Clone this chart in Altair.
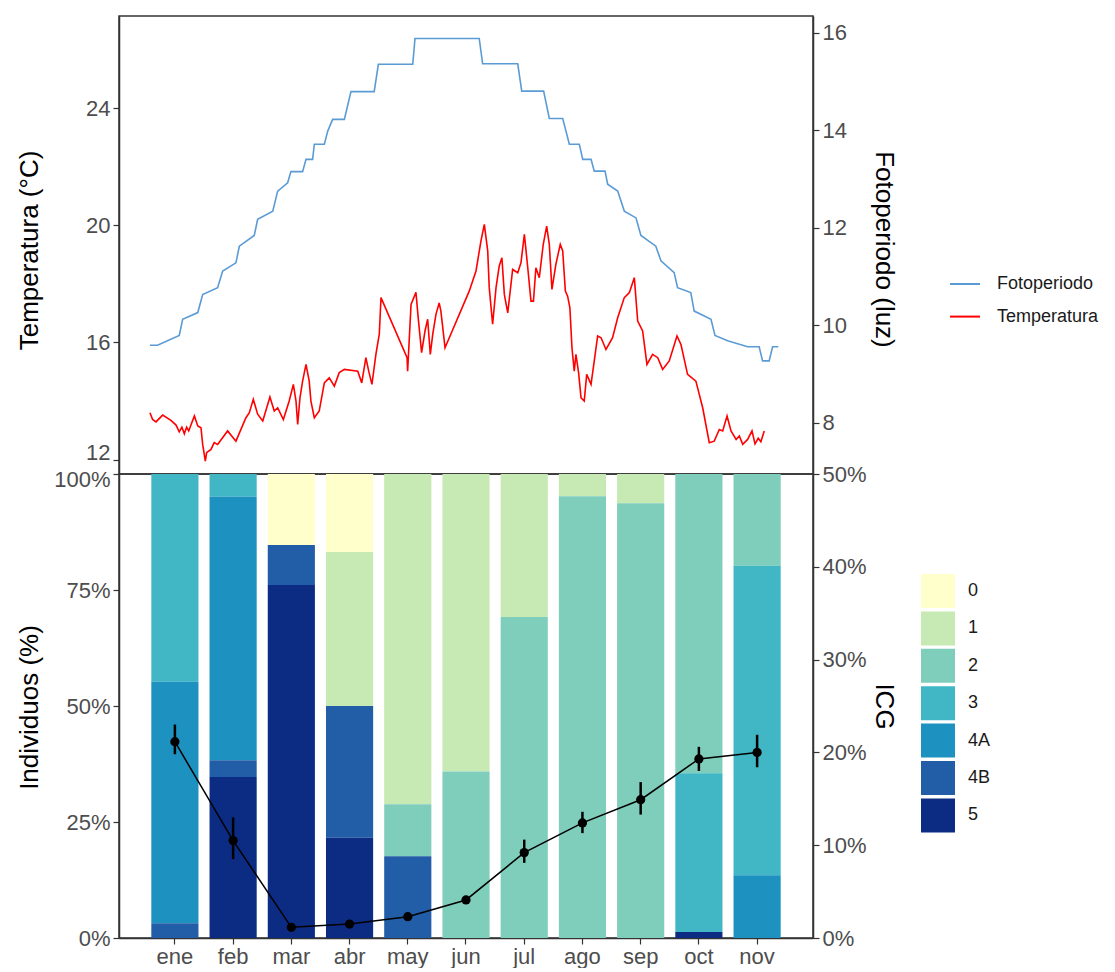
import altair as alt
import pandas as pd

# ---------------- data ----------------
meses = ["ene", "feb", "mar", "abr", "may", "jun", "jul", "ago", "sep", "oct", "nov"]
estadios = ["0", "1", "2", "3", "4A", "4B", "5"]
colores = ["#ffffcc", "#c7e9b4", "#7fcdbb", "#41b6c4", "#1d91c0", "#225ea8", "#0c2c84"]

# % of individuals per stage and month
p0 = [0, 0, 15.3, 16.8, 0, 0, 0, 0, 0, 0, 0]
p1 = [0, 0, 0, 33.2, 71.2, 64.1, 30.8, 4.8, 6.3, 0, 0]
p2 = [0, 0, 0, 0, 11.2, 35.9, 69.2, 95.2, 93.7, 64.5, 19.8]
p3 = [44.8, 4.9, 0, 0, 0, 0, 0, 0, 0, 34.2, 66.7]
p4A = [52.0, 56.8, 0, 0, 0, 0, 0, 0, 0, 0, 13.5]
p4B = [3.2, 3.6, 8.6, 28.4, 17.6, 0, 0, 0, 0, 0, 0]
p5 = [0, 34.7, 76.1, 21.6, 0, 0, 0, 0, 0, 1.3, 0]

# ICG (%) with error bars
icg = [21.15, 10.5, 1.15, 1.5, 2.3, 4.1, 9.2, 12.4, 14.9, 19.3, 20.0]
icg_lo = [19.8, 8.5, 1.0, 1.3, 2.0, 3.7, 8.1, 11.3, 13.3, 18.0, 18.4]
icg_hi = [23.0, 13.0, 1.3, 1.7, 2.6, 4.5, 10.6, 13.6, 16.8, 20.6, 21.9]

# Photoperiod (hours of light), day of year vertices
dia_foto = [0, 4, 15.5, 17.3, 25.3, 27.9, 35.8, 38.5, 45.5, 47.3, 55.2, 57.0, 65.0, 67.6,
            72.9, 74.6, 80.8, 82.6, 86.1, 87.0, 92.3, 94.1, 96.7, 102.9, 106.4, 118.7,
            120.9, 139.1, 140.3, 174.3, 176.1, 194.7, 196.8, 208.4, 211.4, 218.5, 222.0,
            227.3, 229.1, 233.5, 235.2, 240.9, 242.3, 247.6, 251.1, 257.3, 259.9, 267.8,
            270.5, 277.5, 279.3, 286.3, 288.1, 297.0, 299.1, 305.8, 316.4, 322.5, 324.3,
            327.8, 329.6, 332.6]
horas_foto = [9.59, 9.59, 9.79, 10.12, 10.26, 10.63, 10.77, 11.11, 11.28, 11.62, 11.84, 12.17,
              12.34, 12.75, 12.92, 13.15, 13.15, 13.40, 13.40, 13.71, 13.71, 13.98, 14.22,
              14.22, 14.79, 14.79, 15.35, 15.35, 15.88, 15.88, 15.36, 15.36, 14.80, 14.80,
              14.24, 14.24, 13.71, 13.71, 13.40, 13.40, 13.16, 13.16, 12.89, 12.75, 12.34,
              12.20, 11.84, 11.62, 11.32, 11.08, 10.77, 10.67, 10.29, 10.12, 9.79, 9.68,
              9.56, 9.56, 9.27, 9.27, 9.56, 9.56]

# Temperature (°C), day of year vertices
dia_temp = [0.0, 1.4, 3.2, 6.7, 11.1, 13.8, 15.5, 16.9, 18.2, 19.4, 20.5, 23.5, 25.3, 27.0,
            27.9, 29.3, 30.0, 32.3, 34.0, 35.8, 41.1, 45.5, 50.8, 52.6, 54.7, 57.0, 59.7,
            63.5, 65.8, 67.6, 70.6, 73.7, 75.9, 77.3, 78.2, 79.4, 80.8, 82.6, 84.3, 85.2,
            87.0, 89.6, 92.3, 94.9, 97.6, 100.2, 102.9, 110.0, 112.1, 114.3, 115.8, 117.5,
            119.6, 121.4, 122.3, 136.1, 136.4, 138.2, 140.8, 142.0, 143.8, 145.6, 147.0,
            148.4, 149.7, 151.4, 153.1, 154.0, 156.2, 169.0, 172.6, 175.2, 177.0, 178.8,
            179.6, 181.4, 183.2, 184.9, 186.3, 187.6, 189.4, 192.0, 194.7, 196.4, 198.2,
            200.0, 201.7, 203.0, 204.3, 206.1, 208.2, 210.0, 211.4, 212.8, 214.9, 217.2,
            218.5, 219.9, 221.1, 222.3, 223.4, 224.6, 225.5, 226.9, 228.2, 229.9, 231.2,
            233.5, 235.2, 237.0, 238.8, 241.4, 244.9, 247.6, 251.1, 253.8, 256.4, 258.2,
            260.8, 263.1, 266.1, 268.8, 271.4, 274.9, 279.0, 281.1, 284.6, 289.0, 292.6,
            296.1, 298.7, 301.4, 303.2, 305.5, 307.6, 310.3, 312.0, 313.8, 316.4, 318.7,
            320.3, 322.0, 323.4, 325.2]
temp = [13.60, 13.37, 13.29, 13.52, 13.34, 13.18, 12.95, 13.11, 12.88, 13.11, 12.98, 13.49,
        13.15, 13.09, 12.52, 11.95, 12.24, 12.35, 12.58, 12.52, 12.98, 12.63, 13.43, 13.60,
        14.06, 13.55, 13.32, 14.14, 13.66, 13.77, 13.37, 14.00, 14.57, 14.00, 13.20, 14.11,
        14.68, 15.25, 14.68, 14.00, 13.43, 13.66, 14.62, 14.79, 14.51, 14.97, 15.08, 15.02,
        14.62, 15.48, 15.02, 14.57, 15.59, 16.28, 17.53, 15.48, 15.02, 17.30, 17.71, 16.84,
        15.65, 16.39, 16.79, 15.59, 16.28, 16.96, 17.35, 17.07, 15.82, 17.75, 18.44, 19.46,
        20.03, 19.12, 17.87, 16.62, 17.87, 18.61, 18.89, 17.64, 17.01, 18.49, 18.38, 18.72,
        19.69, 18.55, 17.41, 17.41, 18.55, 18.21, 19.35, 19.97, 19.35, 17.81, 18.67, 19.35,
        19.12, 17.75, 17.58, 17.18, 15.82, 15.02, 15.59, 14.97, 14.11, 14.00, 14.91, 14.57,
        15.37, 16.22, 16.16, 15.76, 16.16, 16.84, 17.53, 17.70, 18.21, 16.73, 16.39, 15.25,
        15.59, 15.48, 15.08, 15.37, 16.22, 15.93, 14.91, 14.68, 13.77, 12.58, 12.63, 13.03,
        12.98, 13.49, 12.98, 12.69, 12.81, 12.52, 12.69, 12.98, 12.54, 12.73, 12.61, 12.98]

# ---------------- tables ----------------
df_foto = pd.DataFrame({"dia": dia_foto, "valor": horas_foto, "serie": "Fotoperiodo"})
df_temp = pd.DataFrame({"dia": dia_temp, "valor": temp, "serie": "Temperatura"})

series = {"0": p0, "1": p1, "2": p2, "3": p3, "4A": p4A, "4B": p4B, "5": p5}
rows = []
for est in estadios:
    for m, v in zip(meses, series[est]):
        if v > 0:
            rows.append({"mes": m, "estadio": est, "pct": v / 100.0,
                         "ord": len(estadios) - estadios.index(est)})
df_bars = pd.DataFrame(rows)

df_icg = pd.DataFrame({"mes": meses, "icg": [v / 100 for v in icg],
                       "lo": [v / 100 for v in icg_lo], "hi": [v / 100 for v in icg_hi]})

FONT = "Liberation Sans"

# ---------------- top panel ----------------
x_top = alt.X("dia:Q", scale=alt.Scale(domain=[-16.4, 351.0], nice=False, zero=False), axis=None)
color_top = alt.Color(
    "serie:N",
    scale=alt.Scale(domain=["Fotoperiodo", "Temperatura"], range=["#5b9bd5", "#ff0000"]),
    legend=alt.Legend(title=None, orient="none", legendX=830, legendY=252,
                      symbolType="stroke", symbolSize=900, symbolStrokeWidth=2,
                      labelFontSize=18, labelFont=FONT, labelColor="#1a1a1a",
                      rowPadding=7.6, labelOffset=16, padding=0),
)

foto = alt.Chart(df_foto).mark_line(strokeWidth=1.6, clip=True).encode(
    x=x_top,
    y=alt.Y("valor:Q", scale=alt.Scale(domain=[6.95, 16.34], nice=False, zero=False),
            axis=alt.Axis(orient="right", title="Fotoperiodo (luz)", values=[8, 10, 12, 14, 16],
                          titleX=70, titleY=233, titleAngle=90, titleBaseline="middle",
                          titleAlign="center")),
    color=color_top,
)
temperatura = alt.Chart(df_temp).mark_line(strokeWidth=1.6, clip=True).encode(
    x=x_top,
    y=alt.Y("valor:Q", scale=alt.Scale(domain=[11.51, 27.14], nice=False, zero=False),
            axis=alt.Axis(orient="left", title="Temperatura (°C)", values=[12, 16, 20, 24],
                          titleX=-90, titleY=234, titleAngle=270, titleBaseline="middle",
                          titleAlign="center",
                          labelOffset={"condition": {"test": "datum.value == 12", "value": -7},
                                       "value": 0})),
    color=color_top,
)
top = alt.layer(foto, temperatura).resolve_scale(y="independent").properties(width=694, height=458)

# ---------------- bottom panel ----------------
x_mes = alt.X("mes:N", sort=meses,
              scale=alt.Scale(domain=meses, paddingInner=0.19, paddingOuter=0.555),
              axis=alt.Axis(title=None, labelAngle=0, labelPadding=2))

bars = alt.Chart(df_bars).mark_bar().encode(
    x=x_mes,
    y=alt.Y("pct:Q", stack="zero", scale=alt.Scale(domain=[0, 1], nice=False),
            axis=alt.Axis(title="Individuos (%)", format=".0%", values=[0, 0.25, 0.5, 0.75, 1],
                          titleX=-90, titleY=233, titleAngle=270, titleBaseline="middle",
                          titleAlign="center",
                          labelOffset={"condition": {"test": "datum.value == 1", "value": 5},
                                       "value": 0})),
    color=alt.Color("estadio:N", scale=alt.Scale(domain=estadios, range=colores),
                    legend=alt.Legend(title=None, orient="none", legendX=802, legendY=100,
                                      symbolType="square", symbolSize=1156, symbolStrokeWidth=0,
                                      labelFontSize=18, labelFont=FONT, labelColor="#1a1a1a",
                                      rowPadding=3.4, labelOffset=13, padding=0)),
    order=alt.Order("ord:Q", sort="ascending"),
)

icg_axis = alt.Axis(orient="right", title="ICG", format=".0%", values=[0, 0.1, 0.2, 0.3, 0.4, 0.5],
                    titleX=70, titleY=232, titleAngle=90, titleBaseline="middle", titleAlign="center")
icg_scale = alt.Scale(domain=[0, 0.5], nice=False)

rules = alt.Chart(df_icg).mark_rule(color="black", strokeWidth=2.5).encode(
    x=x_mes, y=alt.Y("lo:Q", scale=icg_scale, axis=icg_axis), y2="hi:Q")
line = alt.Chart(df_icg).mark_line(color="black", strokeWidth=1.5).encode(
    x=x_mes, y=alt.Y("icg:Q", scale=icg_scale, axis=icg_axis))
pts = alt.Chart(df_icg).mark_circle(color="black", size=85, opacity=1).encode(
    x=x_mes, y=alt.Y("icg:Q", scale=icg_scale, axis=icg_axis))

icg_layer = alt.layer(rules, line, pts)
bottom = alt.layer(bars, icg_layer).resolve_scale(y="independent").properties(width=694, height=464)

chart = (
    alt.vconcat(top, bottom, spacing=0, bounds="flush")
    .resolve_scale(x="independent", y="independent", color="independent")
    .resolve_legend(color="independent")
    .properties(padding={"left": 15, "top": 15, "right": 5, "bottom": 0}, background="white")
    .configure_view(stroke="#333333", strokeWidth=1.5)
    .configure_axis(labelFont=FONT, labelFontSize=22, labelColor="#4d4d4d",
                    titleFont=FONT, titleFontSize=26, titleColor="#000000", titleFontWeight="normal",
                    domainColor="#333333", domainWidth=1.5, tickColor="#333333", tickSize=6,
                    tickWidth=1.2, labelPadding=3, grid=False)
)

chart.save("out.html", embed_options={"renderer": "svg", "actions": False})
